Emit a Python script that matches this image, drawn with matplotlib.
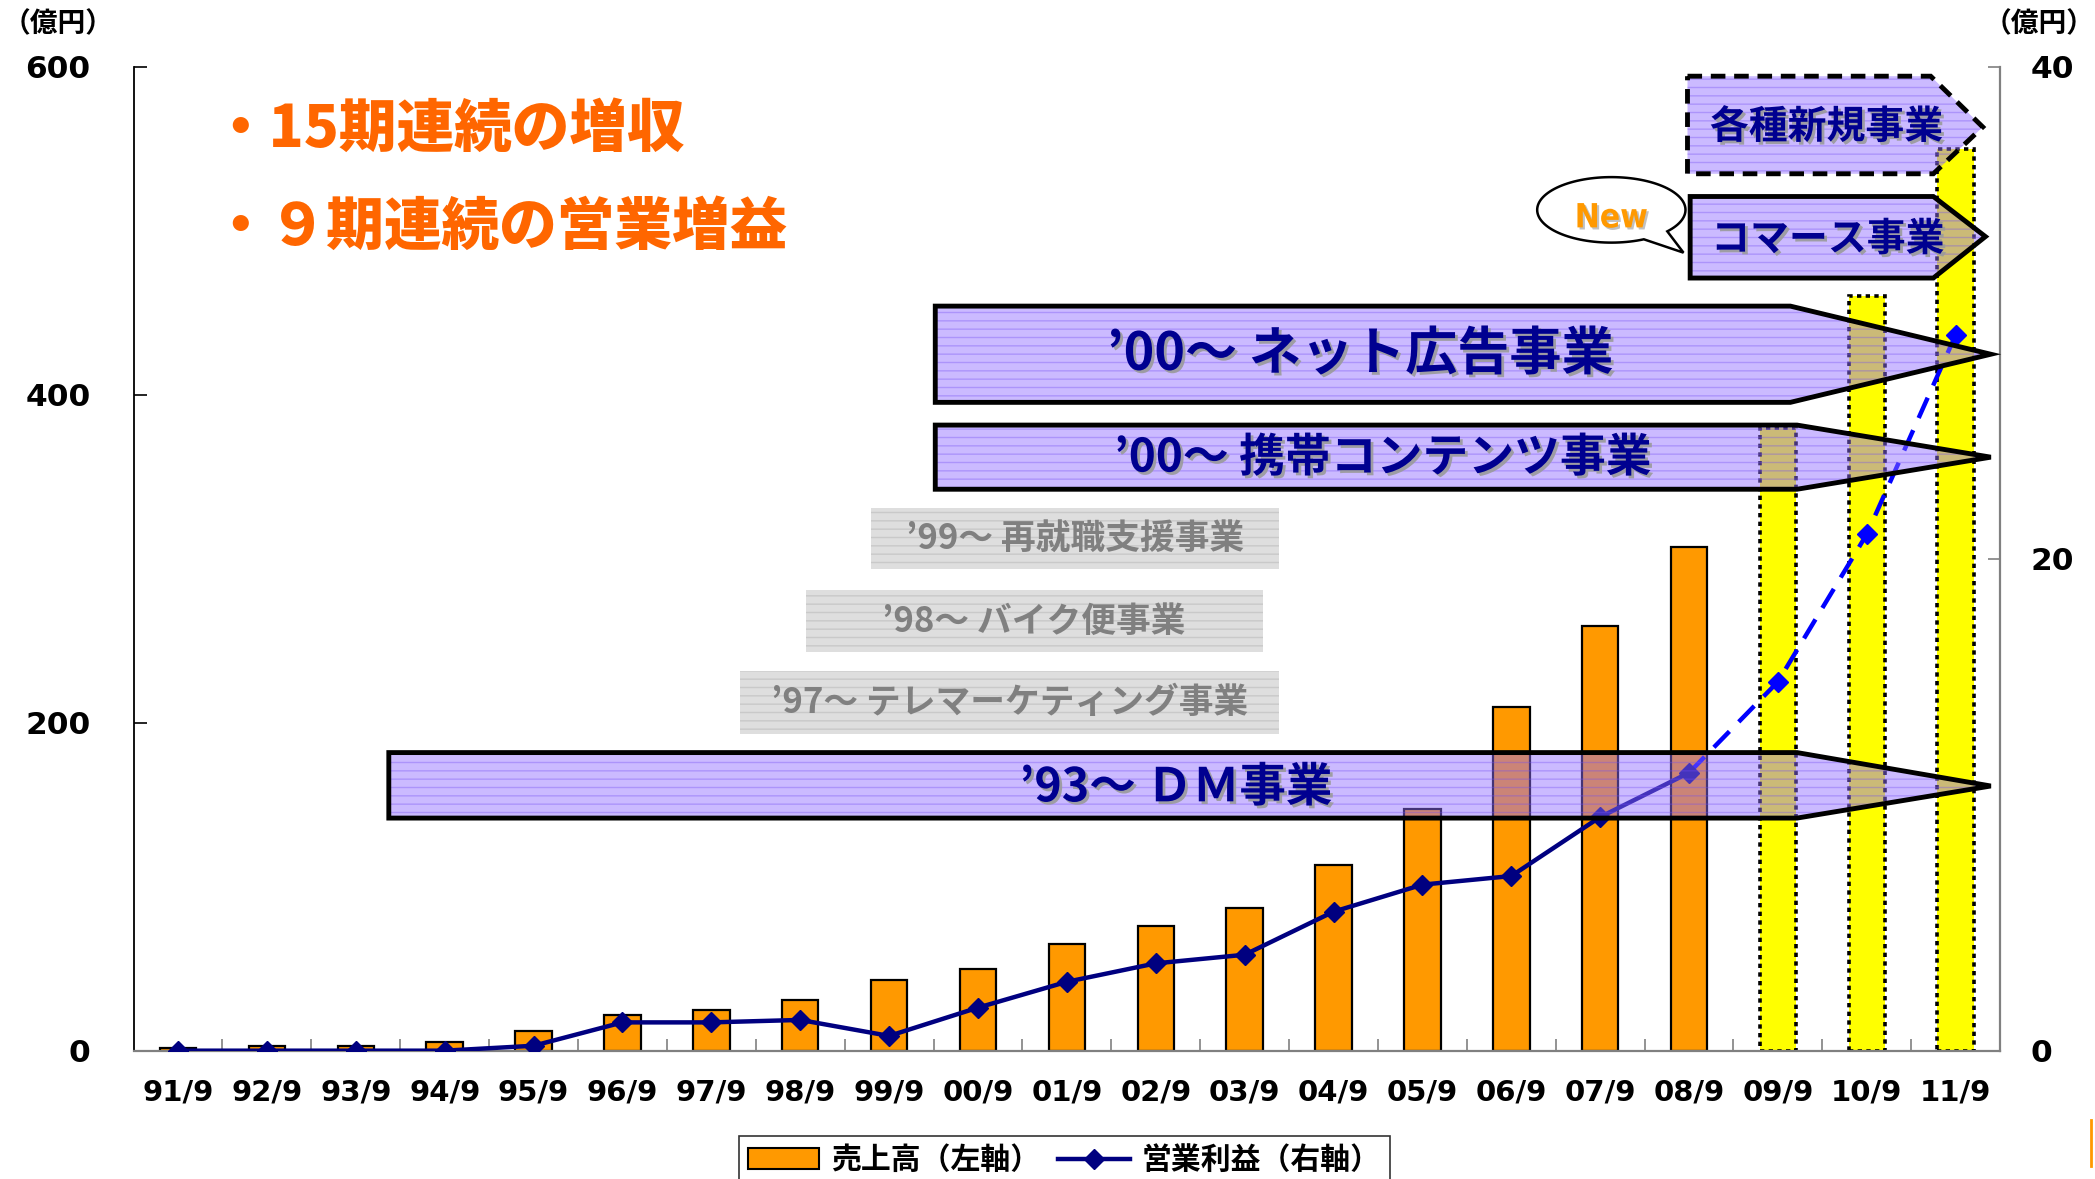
import numpy as np
import matplotlib
matplotlib.use('Agg')
import matplotlib.pyplot as plt
from matplotlib.patches import Polygon, Patch
from matplotlib.lines import Line2D
from matplotlib.transforms import Affine2D
import matplotlib.patheffects as pe

# ---------------- data ----------------
periods = ['91/9', '92/9', '93/9', '94/9', '95/9', '96/9', '97/9', '98/9', '99/9',
           '00/9', '01/9', '02/9', '03/9', '04/9', '05/9', '06/9', '07/9', '08/9',
           '09/9', '10/9', '11/9']
sales = [1.5, 3, 3, 5, 12, 22, 25, 31, 43, 50, 65, 76, 87, 113, 147.5, 209.5, 259, 307]
sales_plan = [380, 460, 550]
profit = [0, 0, 0, 0, 0.2, 1.15, 1.15, 1.25, 0.6, 1.75, 2.8, 3.55, 3.9, 5.65, 6.75,
          7.1, 9.5, 11.3]
profit_plan = [15.0, 21.0, 29.1]
left_ticks = [0, 200, 400, 600]
right_ticks = [0, 20, 40]
unit_label = '（億円）'
legend_labels = ['売上高（左軸）', '営業利益（右軸）']
headline = ['・15期連続の増収', '・９期連続の営業増益']
businesses_main = ['’93～ ＤＭ事業', '’00～ ネット広告事業', '’00～ 携帯コンテンツ事業',
                   'コマース事業', '各種新規事業']
businesses_closed = ['’99～ 再就職支援事業', '’98～ バイク便事業', '’97～ テレマーケティング事業']
new_badge = 'New'

# ---------------- style ----------------
plt.rcParams['font.family'] = ['Noto Sans CJK JP', 'DejaVu Sans']
NUMFONT = ['DejaVu Sans']
ORANGE = '#FF9900'
NAVY = '#000080'
TEXTNAVY = '#000090'

fig = plt.figure(figsize=(20.95, 11.79), dpi=100)
ax = fig.add_axes([100 / 1568, 1 - 786 / 882, 1397 / 1568, 736 / 882])
ax2 = ax.twinx()

# pixel transform in the 1568x882 reference frame (y down)
T = Affine2D().scale(1 / 1568, -1 / 882).translate(0, 1) + fig.transFigure

n_hist = len(sales)
x = np.arange(len(periods))

ax.bar(x[:n_hist], sales, width=0.41, color=ORANGE, edgecolor='black', linewidth=1.6, zorder=2)
ax.bar(x[n_hist:], sales_plan, width=0.41, color='#FFFF00', edgecolor='black',
       linewidth=2.6, linestyle=(0, (1.2, 1.2)), zorder=2)

ax2.plot(x[n_hist - 1:], [profit[-1]] + profit_plan, color='#0000FF', lw=3.2,
         linestyle=(0, (5, 3)), marker='D', markersize=10, markevery=[1, 2, 3], zorder=3)
ax2.plot(x[:n_hist], profit, color=NAVY, lw=3.2, marker='D', markersize=10, zorder=3)

ax.set_xlim(-0.5, len(periods) - 0.5)
ax.set_ylim(0, 600)
ax2.set_ylim(0, 40)

ax.set_yticks(left_ticks)
ax.set_yticklabels([str(v) for v in left_ticks], fontsize=22.5, fontweight='bold', family=NUMFONT)
ax2.set_yticks(right_ticks)
ax2.set_yticklabels([str(v) for v in right_ticks], fontsize=22.5, fontweight='bold', family=NUMFONT)
ax.set_xticks(x)
ax.set_xticklabels(periods, fontsize=21, fontweight='bold', family=NUMFONT)
ax.set_xticks(np.arange(0.5, len(periods) - 1, 1), minor=True)

ax.tick_params(axis='y', direction='in', length=9, width=1.2, pad=31, color='black')
ax2.tick_params(axis='y', direction='in', length=9, width=1.2, pad=22, color='#808080')
ax.tick_params(axis='x', which='major', length=0, pad=20)
ax.tick_params(axis='x', which='minor', direction='in', length=9, width=1.2, color='#808080')

ax.spines['top'].set_visible(False)
for s in ['top', 'left', 'bottom']:
    ax2.spines[s].set_visible(False)
ax.spines['right'].set_visible(False)
ax.spines['left'].set_color('black')
ax.spines['left'].set_linewidth(1.3)
ax.spines['bottom'].set_color('#808080')
ax.spines['bottom'].set_linewidth(1.6)
ax2.spines['right'].set_color('#808080')
ax2.spines['right'].set_linewidth(1.6)

# ---------------- annotations ----------------
shadow = [pe.withSimplePatchShadow(offset=(2, -2), shadow_rgbFace='#9A9A9A', alpha=0.9)]


def arrow(pts, dashed=False):
    ax2.add_patch(Polygon(pts, closed=True, transform=T, facecolor=(0.57, 0.43, 1.0, 0.47),
                          edgecolor=(0.45, 0.3, 0.95, 0.35), linewidth=0, hatch='--',
                          zorder=5, clip_on=False))
    ax2.add_patch(Polygon(pts, closed=True, transform=T, fill=False, edgecolor='black',
                          linewidth=3.5, linestyle=(0, (3, 1.8)) if dashed else '-',
                          joinstyle='miter', zorder=6, clip_on=False))


def label(xp, yp, s, size, color=TEXTNAVY, effects=shadow, ha='center', **kw):
    kw.setdefault('fontweight', 'bold')
    ax2.text(xp, yp, s, transform=T, ha=ha, va='center', fontsize=size,
             color=color, zorder=7, path_effects=effects, clip_on=False, **kw)


# gray (closed) business boxes
for (x0, x1, y0, y1), s, cx in zip([(652, 957, 380, 426), (603, 945, 441, 488), (554, 957, 502, 549)],
                                   businesses_closed, [805, 774, 756]):
    ax2.add_patch(Polygon([(x0, y0), (x1, y0), (x1, y1), (x0, y1)], closed=True, transform=T,
                          facecolor='#DEDEDE', edgecolor='#C9C9C9', linewidth=0, hatch='--',
                          zorder=4, clip_on=False))
    label(cx, (y0 + y1) / 2, s, 25, color='#808080', effects=None)

# main business arrows
arrow([(291, 563), (1345, 563), (1490, 588), (1345, 612), (291, 612)])
arrow([(700, 229), (1340, 229), (1490, 265), (1340, 301), (700, 301)])
arrow([(700, 318), (1345, 318), (1490, 342), (1345, 366), (700, 366)])
arrow([(1265, 147), (1447, 147), (1486, 177), (1447, 208), (1265, 208)])
arrow([(1263, 57), (1445, 57), (1484, 95), (1447, 130), (1263, 130)], dashed=True)

label(880, 589, businesses_main[0], 33.5)
label(1018, 265, businesses_main[1], 37.5)
label(1035, 343, businesses_main[2], 33)
label(1368, 179, businesses_main[3], 28)
label(1367, 95, businesses_main[4], 28)

# "New" speech bubble
cx, cy, a, b = 1206, 157, 55.5, 24.5
t = np.radians(np.linspace(64, 41 + 360, 120))
bubble = list(zip(cx + a * np.cos(t), cy + b * np.sin(t))) + [(1260, 189)]
ax2.add_patch(Polygon(bubble, closed=True, transform=T, facecolor='white', edgecolor='black',
                      linewidth=1.8, zorder=6, clip_on=False))
ax2.text(1206, 163, new_badge, transform=T, ha='center', va='center', fontsize=24,
         fontweight='bold', fontstretch='condensed', color=ORANGE,
         family=['DejaVu Sans'], zorder=7,
         path_effects=[pe.withSimplePatchShadow(offset=(1.5, -1.5), shadow_rgbFace='#BBBBBB', alpha=0.9)])

# headline bullets
label(158, 97, headline[0], 41.5, color='#FF6600', effects=None, ha='left', fontweight='black')
label(158, 170, headline[1], 41.5, color='#FF6600', effects=None, ha='left', fontweight='black')

# unit labels
fig.text(2 / 1568, 1 - 18 / 882, unit_label, ha='left', va='center', fontsize=20, fontweight='bold')
fig.text(1568 / 1568, 1 - 18 / 882, unit_label, ha='right', va='center', fontsize=20, fontweight='bold')

# legend
handles = [Patch(facecolor=ORANGE, edgecolor='black', linewidth=1.5),
           Line2D([], [], color=NAVY, lw=3.2, marker='D', markersize=10)]
leg = fig.legend(handles, legend_labels, loc='upper left', bbox_to_anchor=(553 / 1568, 1 - 850 / 882),
                 ncol=2, frameon=True, fancybox=False, edgecolor='black', borderaxespad=0,
                 borderpad=0.3, handlelength=2.4, handletextpad=0.4, columnspacing=0.6,
                 prop={'size': 21.5, 'weight': 'bold'})
leg.get_frame().set_linewidth(1.2)

# small orange mark at lower right edge
fig.add_artist(Line2D([1565 / 1568] * 2, [1 - 838 / 882, 1 - 872 / 882], color=ORANGE, lw=2,
                      transform=fig.transFigure))

fig.savefig('out.png', dpi=100)
